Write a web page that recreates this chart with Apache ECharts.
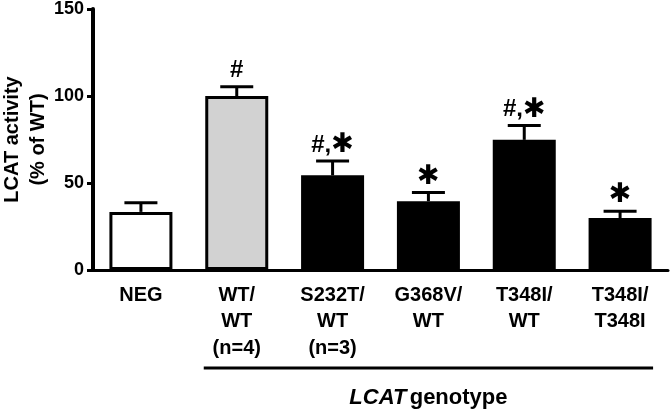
<!DOCTYPE html>
<html>
<head>
<meta charset="utf-8">
<script src="https://cdn.jsdelivr.net/npm/echarts@6/dist/echarts.min.js"></script>
<style>
html,body{margin:0;padding:0;background:#fff;}
#chart{width:670px;height:411px;}
</style>
</head>
<body>
<div id="chart"></div>
<script>
// ---- data ----
const categories = ['NEG', 'WT/\nWT\n(n=4)', 'S232T/\nWT\n(n=3)', 'G368V/\nWT', 'T348I/\nWT', 'T348I/\nT348I'];
const means = [33.4, 100, 54.4, 39.5, 74.8, 29.9];
const errors = [5.3, 5.3, 8.2, 5.0, 8.2, 3.9];
const marks = ['', '#', '#,*', '*', '#,*', '*'];
const yTicks = [0, 50, 100, 150];
const groupLabelFirst = 1;   // first category under "LCAT genotype"
const groupLabelLast = 5;

// ---- styles ----
const barFills = ['#ffffff', '#d2d2d2', '#000000', '#000000', '#000000', '#000000'];
const FONT = 'Liberation Sans, Arial, sans-serif';
const BAR_W = 63;

const chart = echarts.init(document.getElementById('chart'), null, {renderer: 'canvas'});

function markRich(m) {
  // '#' and ',' as normal text, '*' as heavy asterisk
  let out = '';
  for (const ch of m) {
    if (ch === '*') out += '{s|\u2731}';
    else out += '{h|' + ch + '}';
  }
  return out;
}

const option = {
  animation: false,
  backgroundColor: '#fff',
  grid: {left: 93, right: 2, top: 9, bottom: 141, outerBoundsMode: 'none', containLabel: false},
  xAxis: {
    type: 'category',
    data: categories,
    axisLine: {lineStyle: {color: '#000', width: 3}},
    axisTick: {show: false},
    axisLabel: {
      interval: 0, color: '#000', fontSize: 20, fontWeight: 'bold',
      fontFamily: FONT, lineHeight: 26.5, margin: 12
    }
  },
  yAxis: {
    type: 'value', min: yTicks[0], max: yTicks[yTicks.length - 1], interval: 50,
    splitLine: {show: false},
    axisLine: {show: true, lineStyle: {color: '#000', width: 4}},
    axisTick: {show: true, length: 6, lineStyle: {color: '#000', width: 3}},
    axisLabel: {color: '#000', fontSize: 18, fontWeight: 'bold', fontFamily: FONT, margin: 9},
    name: 'LCAT activity\n(% of WT)',
    nameLocation: 'middle',
    nameGap: 42,
    nameMoveOverlap: false,
    nameTextStyle: {color: '#000', fontSize: 20, fontWeight: 'bold', fontFamily: FONT, lineHeight: 26}
  },
  series: [
    {
      type: 'bar',
      barWidth: BAR_W,
      data: means.map((v, i) => ({value: v, itemStyle: {color: barFills[i]}})),
      itemStyle: {borderColor: '#000', borderWidth: 3}
    },
    {
      type: 'custom',
      data: means.map((v, i) => [i, v, errors[i]]),
      z: 5,
      renderItem: function (params, api) {
        const i = api.value(0), m = api.value(1), e = api.value(2);
        const b = api.coord([i, m]);
        const t = api.coord([i, m + e]);
        const half = 16.5;
        const children = [
          {type: 'line', shape: {x1: b[0], y1: b[1], x2: t[0], y2: t[1]}, style: {stroke: '#000', lineWidth: 3}},
          {type: 'line', shape: {x1: t[0] - half, y1: t[1], x2: t[0] + half, y2: t[1]}, style: {stroke: '#000', lineWidth: 3}}
        ];
        const mk = marks[params.dataIndex];
        if (mk) {
          children.push({
            type: 'text',
            style: {
              text: markRich(mk), x: t[0], y: t[1] - 16,
              align: 'center', verticalAlign: 'middle',
              fill: '#000',
              rich: {
                h: {fontSize: 24, fontWeight: 'bold', fontFamily: FONT, fill: '#000', verticalAlign: 'middle', lineHeight: 24},
                s: {fontSize: 27, fontWeight: 'bold', fontFamily: 'DejaVu Sans', fill: '#000', verticalAlign: 'middle', lineHeight: 24}
              }
            }
          });
        }
        return {type: 'group', children: children};
      }
    }
  ]
};
chart.setOption(option);

// group bracket under categories
const x1 = chart.convertToPixel({xAxisIndex: 0}, groupLabelFirst) - BAR_W / 2 - 1.5;
const x2 = chart.convertToPixel({xAxisIndex: 0}, groupLabelLast) + BAR_W / 2 + 1.5;
chart.setOption({
  graphic: [
    {type: 'line', shape: {x1: x1, y1: 368, x2: x2, y2: 368}, style: {stroke: '#000', lineWidth: 3}},
    {
      type: 'text', x: (x1 + x2) / 2, y: 398,
      style: {
        text: '{i|LCAT} {n|genotype}', align: 'center', verticalAlign: 'middle',
        rich: {
          i: {fontStyle: 'italic', fontWeight: 'bold', fontSize: 22, fontFamily: FONT, fill: '#000'},
          n: {fontWeight: 'bold', fontSize: 22, fontFamily: FONT, fill: '#000'}
        }
      }
    }
  ]
});
</script>
</body>
</html>
